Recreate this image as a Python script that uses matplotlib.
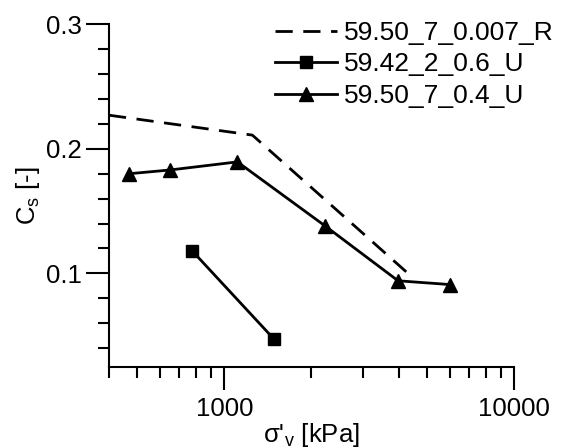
import numpy as np
import matplotlib.pyplot as plt
from matplotlib.ticker import FixedLocator, NullFormatter

plt.rcParams['font.family'] = ['Liberation Sans', 'DejaVu Sans']
plt.rcParams['mathtext.fontset'] = 'custom'
plt.rcParams['mathtext.rm'] = 'Liberation Sans'
plt.rcParams['mathtext.it'] = 'Liberation Sans'

# data
x_r = [400, 1250, 4500]
cs_r = [0.227, 0.211, 0.096]

x_sq = [775, 1480]
cs_sq = [0.118, 0.0475]

x_tri = [470, 650, 1110, 2230, 3980, 5990]
cs_tri = [0.180, 0.183, 0.1895, 0.138, 0.094, 0.091]

labels = ['59.50_7_0.007_R', '59.42_2_0.6_U', '59.50_7_0.4_U']

fs = 18.5
fig = plt.figure(figsize=(5.68, 4.48), dpi=100)
ax = fig.add_axes([109 / 568, 1 - 366.7 / 448, (514 - 109) / 568, (366.7 - 24.3) / 448])

ax.plot(x_r, cs_r, color='black', lw=2, linestyle=(0, (6.2, 3.8)), label=labels[0])
ax.plot(x_sq, cs_sq, color='black', lw=2, marker='s', ms=8, label=labels[1])
ax.plot(x_tri, cs_tri, color='black', lw=2, marker='^', ms=10, label=labels[2])

ax.set_xscale('log')
ax.set_xlim(400, 10000)
ax.set_ylim(0.025, 0.3)

ax.xaxis.set_major_locator(FixedLocator([1000, 10000]))
ax.xaxis.set_minor_locator(FixedLocator([400, 500, 600, 700, 800, 900,
                                         2000, 3000, 4000, 5000, 6000, 7000, 8000, 9000]))
ax.xaxis.set_minor_formatter(NullFormatter())
ax.set_xticklabels(['1000', '10000'])
ax.yaxis.set_major_locator(FixedLocator([0.1, 0.2, 0.3]))
ax.yaxis.set_minor_locator(FixedLocator(np.arange(0.04, 0.3, 0.02)))
ax.set_yticklabels(['0.1', '0.2', '0.3'])

for s in ['top', 'right']:
    ax.spines[s].set_visible(False)
for s in ['left', 'bottom']:
    ax.spines[s].set_linewidth(1.5)

ax.tick_params(which='major', direction='out', length=16.5, width=1.5, labelsize=fs, pad=3)
ax.tick_params(which='minor', direction='out', length=8, width=1.5)
ax.tick_params(axis='x', which='major', pad=5)

ax.set_xlabel("σ'$_\\mathregular{v}$ [kPa]", fontsize=fs, labelpad=0)
ax.set_ylabel("C$_\\mathregular{s}$ [-]", fontsize=fs, labelpad=3)

ax.legend(loc='upper left', bbox_to_anchor=(275 / 568, 1 - 21 / 448), bbox_transform=fig.transFigure,
          frameon=False, fontsize=19, handlelength=2.35, handletextpad=0.27,
          labelspacing=0.28, borderpad=0, borderaxespad=0, numpoints=1)

fig.savefig('out.png', dpi=100)
